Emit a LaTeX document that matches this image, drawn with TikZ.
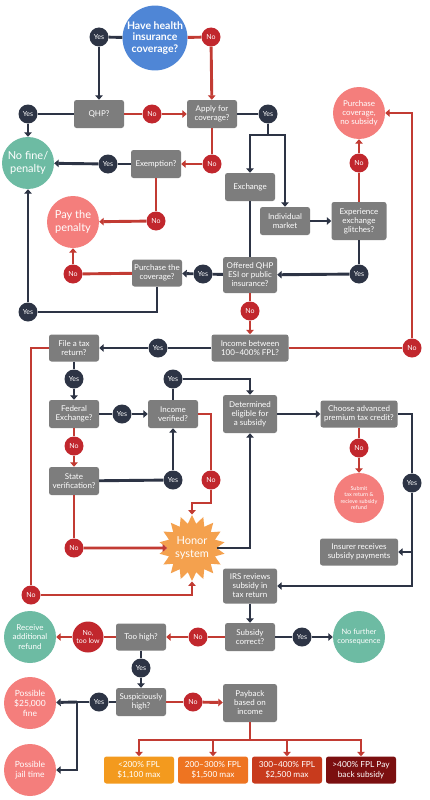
\documentclass[tikz,border=0pt]{standalone}
\usepackage{fontspec}
\setmainfont{Lato}
\usetikzlibrary{arrows.meta, shapes.geometric}
\definecolor{navy}{HTML}{2D3445}
\definecolor{nored}{HTML}{C1272D}
\definecolor{linered}{HTML}{C23B33}
\definecolor{boxgrey}{HTML}{7D7D7D}
\definecolor{hblue}{HTML}{4F86D6}
\definecolor{teal}{HTML}{6DBBA3}
\definecolor{salmon}{HTML}{F47E7C}
\definecolor{honor}{HTML}{F4A14E}
\definecolor{fpa}{HTML}{F39A1E}
\definecolor{fpb}{HTML}{EE7421}
\definecolor{fpc}{HTML}{C83B1D}
\definecolor{fpd}{HTML}{7B0F10}

\tikzset{
  qbox/.style={fill=boxgrey, rounded corners=2.5pt, text=white, align=center,
    font=\fontsize{8}{9}\selectfont, inner sep=1pt,
    minimum width=50pt, minimum height=28pt},
  fbox/.style={qbox, minimum width=70pt, minimum height=27pt,
    font=\fontsize{8.3}{9.5}\selectfont},
  ydot/.style={circle, fill=navy, text=white, font=\fontsize{7}{7.5}\selectfont,
    minimum size=19pt, inner sep=0pt},
  ndot/.style={ydot, fill=nored},
  endc/.style={circle, text=white, align=center, inner sep=0pt, minimum size=52pt},
  dk/.style={navy, line width=2.9pt},
  rd/.style={linered, line width=2.9pt},
}

\begin{document}
\begin{tikzpicture}[x=1pt, y=-1pt, >={Triangle[length=4.5pt, width=7.5pt]}]

\useasboundingbox (0,0) rectangle (430,800);
\fill[white] (0,0) rectangle (430,800);

% ----- top: coverage -----
\node[endc, fill=hblue, minimum size=64pt, font=\bfseries\fontsize{10.5}{11.5}\selectfont]
  (have) at (155,38) {Have health\\insurance\\coverage?};
\node[ydot] (y1) at (99,37) {Yes};
\node[ndot] (n1) at (211,37) {No};
\node[qbox] (qhp) at (99,114) {QHP?};
\node[qbox] (apply) at (212,114) {Apply for\\coverage?};
\node[ydot] (y2) at (28,114) {Yes};
\node[ndot] (n2) at (152,114) {No};
\node[ydot] (y3) at (268,114) {Yes};
\coordinate (br) at (268,135);
\node[endc, fill=salmon, font=\fontsize{8}{9}\selectfont]
  (nosub) at (359,113) {Purchase\\coverage,\\no subsidy};

% ----- penalty -----
\node[endc, fill=teal, font=\fontsize{11}{12.5}\selectfont] (nofine) at (28,163) {No fine/\\penalty};
\node[qbox] (exempt) at (156,164) {Exemption?};
\node[ydot] (y4) at (108,164) {Yes};
\node[ndot] (n3) at (212,164) {No};
\node[ndot] (n4) at (156,221) {No};
\node[endc, fill=salmon, font=\fontsize{11}{12.5}\selectfont] (pay) at (73,222) {Pay the\\penalty};

% ----- markets -----
\node[qbox] (exch) at (250,187) {Exchange};
\node[qbox] (indiv) at (285,221) {Individual\\market};
\node[qbox, minimum width=55pt, minimum height=38pt] (glitch) at (359,221) {Experience\\exchange\\glitches?};
\node[ndot] (n5) at (359,163) {No};
\node[ydot] (y5) at (359,274) {Yes};
\node[qbox, minimum width=54pt, minimum height=36pt] (offer) at (250,275) {Offered QHP\\ESI or public\\insurance?};
\node[ydot] (y6) at (203,274) {Yes};
\node[qbox, minimum height=27pt] (purch) at (157,273) {Purchase the\\coverage?};
\node[ndot] (n6) at (73,274) {No};
\node[ydot] (y7) at (28,312) {Yes};
\node[ndot] (n7) at (250,311) {No};

% ----- income and tax return -----
\node[qbox, minimum width=77pt, minimum height=27pt] (income) at (250,348) {Income between\\100--400\% FPL?};
\node[ndot] (n8) at (412,348) {No};
\node[ydot] (y8) at (158,348) {Yes};
\node[qbox, minimum height=27pt] (file) at (74,348) {File a tax\\return?};
\node[ydot] (y9) at (74,379) {Yes};
\node[qbox] (fed) at (74,414) {Federal\\Exchange?};
\node[ydot] (y10) at (122,414) {Yes};
\node[qbox] (ver) at (173,414) {Income\\verified?};
\node[ndot] (n10) at (74,446) {No};
\node[qbox] (state) at (74,481) {State\\verification?};
\node[ydot] (y11) at (173,480) {Yes};
\node[ndot] (n11) at (74,548) {No};
\node[ydot] (y12) at (173,379) {Yes};
\node[ndot] (n12) at (211,480) {No};
\node[star, star points=18, star point ratio=1.35, fill=honor, minimum size=66pt,
  inner sep=0pt, text=white, align=center, font=\fontsize{11}{12.5}\selectfont]
  (honor) at (192,548) {Honor\\system};
\node[ndot] (n9) at (31,595) {No};

% ----- subsidy -----
\node[qbox, minimum width=54pt, minimum height=38pt] (det) at (250,414) {Determined\\eligible for\\a subsidy};
\node[qbox, minimum width=77pt, minimum height=27pt] (choose) at (359,414) {Choose advanced\\premium tax credit?};
\node[ndot] (n13) at (359,448) {No};
\node[endc, fill=salmon, minimum size=50pt, font=\fontsize{5.5}{6.5}\selectfont]
  (submit) at (359,498) {Submit\\tax return \&\\recieve subsidy\\refund};
\node[ydot] (y13) at (412,483) {Yes};
\node[qbox, minimum width=78pt, minimum height=27pt] (ins) at (359,552) {Insurer receives\\subsidy payments};
\node[qbox, minimum width=54pt, minimum height=35pt] (irs) at (250,586) {IRS reviews\\subsidy in\\tax return};

% ----- review -----
\node[qbox] (subc) at (250,637) {Subsidy\\correct?};
\node[ydot] (y14) at (302,637) {Yes};
\node[endc, fill=teal, font=\fontsize{7.5}{9}\selectfont] (nofur) at (359,637) {No further\\consequence};
\node[ndot] (n14) at (198,637) {No};
\node[qbox, minimum height=27pt] (toohigh) at (141,637) {Too high?};
\node[ndot, minimum size=31pt, font=\fontsize{7}{8}\selectfont, align=center] (n15) at (88,637) {No,\\too low};
\node[endc, fill=teal, font=\fontsize{8}{9.5}\selectfont] (refund) at (30,637) {Receive\\additional\\refund};
\node[ydot] (y15) at (141,668) {Yes};
\node[qbox] (susp) at (141,702) {Suspiciously\\high?};
\node[ydot] (y16) at (99,702) {Yes};
\coordinate (jn) at (77,702);
\node[endc, fill=salmon, font=\fontsize{8.5}{10}\selectfont] (fine) at (30,703) {Possible\\\$25,000\\fine};
\node[endc, fill=salmon, font=\fontsize{8.5}{10}\selectfont] (jail) at (30,770) {Possible\\jail time};
\node[ndot] (n16) at (193,702) {No};
\node[qbox, minimum width=54pt, minimum height=38pt] (payback) at (250,703) {Payback\\based on\\income};
\coordinate (pb) at (250,740);
\node[fbox, fill=fpa] (f1) at (139,770) {<200\% FPL\\\$1,100 max};
\node[fbox, fill=fpb] (f2) at (213,770) {200--300\% FPL\\\$1,500 max};
\node[fbox, fill=fpc] (f3) at (287,770) {300--400\% FPL\\\$2,500 max};
\node[fbox, fill=fpd] (f4) at (361,770) {>400\% FPL Pay\\back subsidy};

% ----- connectors -----
\draw[dk] (have) -- (y1);
\draw[dk, ->] (y1) -- (qhp);
\draw[rd] (have) -- (n1);
\draw[rd, ->] (n1) -- (apply);
\draw[dk] (qhp) -- (y2);
\draw[dk, ->] (y2) -- (nofine);
\draw[rd] (qhp) -- (n2);
\draw[rd, ->] (n2) -- (apply);
\draw[dk] (apply) -- (y3);
\draw[dk] (y3) -- (br);
\draw[dk, ->] (br) -| (exch);
\draw[dk, ->] (br) -| (indiv);
\draw[rd] (apply) -- (n3);
\draw[rd, ->] (n3) -- (exempt);
\draw[dk] (exempt) -- (y4);
\draw[dk, ->] (y4) -- (nofine);
\draw[rd] (exempt) -- (n4);
\draw[rd, ->] (n4) -- (pay);
\draw[dk, ->] (indiv) -- (glitch);
\draw[rd] (glitch) -- (n5);
\draw[rd, ->] (n5) -- (nosub);
\draw[dk] (glitch) -- (y5);
\draw[dk, ->] (y5) -- (offer);
\draw[dk] (exch) -- (offer);
\draw[dk] (offer) -- (y6);
\draw[dk, ->] (y6) -- (purch);
\draw[rd] (purch) -- (n6);
\draw[rd, ->] (n6) -- (pay);
\draw[dk] (purch) |- (y7);
\draw[dk, ->] (y7) -- (nofine);
\draw[rd] (offer) -- (n7);
\draw[rd, ->] (n7) -- (income);
\draw[rd] (income) -- (n8);
\draw[rd, ->] (n8) |- (nosub);
\draw[dk] (income) -- (y8);
\draw[dk, ->] (y8) -- (file);
\draw[rd] (file) -| (n9);
\draw[rd, ->] (n9) -| (honor);
\draw[dk] (file) -- (y9);
\draw[dk, ->] (y9) -- (fed);
\draw[dk] (fed) -- (y10);
\draw[dk, ->] (y10) -- (ver);
\draw[rd] (fed) -- (n10);
\draw[rd, ->] (n10) -- (state);
\draw[dk] (state) -- (y11);
\draw[dk, ->] (y11) -- (ver);
\draw[rd] (state) -- (n11);
\draw[rd, ->] (n11) -- (honor);
\draw[dk] (ver) -- (y12);
\draw[dk, ->] (y12) -| (det);
\draw[rd] (ver) -| (n12);
\draw[rd, ->] (n12) -- ++(0,23) -| (honor);
\draw[dk, ->] (honor) -| (det);
\draw[dk, ->] (det) -- (choose);
\draw[rd] (choose) -- (n13);
\draw[rd, ->] (n13) -- (submit);
\draw[dk] (choose) -| (y13);
\draw[dk, ->] (y13) |- (irs);
\draw[dk, ->] (y13 |- ins) -- (ins);
\draw[dk, ->] (irs) -- (subc);
\draw[dk] (subc) -- (y14);
\draw[dk, ->] (y14) -- (nofur);
\draw[rd] (subc) -- (n14);
\draw[rd, ->] (n14) -- (toohigh);
\draw[rd] (toohigh) -- (n15);
\draw[rd, ->] (n15) -- (refund);
\draw[dk] (toohigh) -- (y15);
\draw[dk, ->] (y15) -- (susp);
\draw[dk] (susp) -- (y16);
\draw[dk] (y16) -- (jn);
\draw[dk, ->] (jn) -- (fine);
\draw[dk, ->] (jn) |- (jail);
\draw[rd] (susp) -- (n16);
\draw[rd, ->] (n16) -- (payback);
\draw[rd] (payback) -- (pb);
\foreach \b in {f1,f2,f3,f4}
  \draw[rd, ->] (pb) -| (\b);

\end{tikzpicture}
\end{document}
